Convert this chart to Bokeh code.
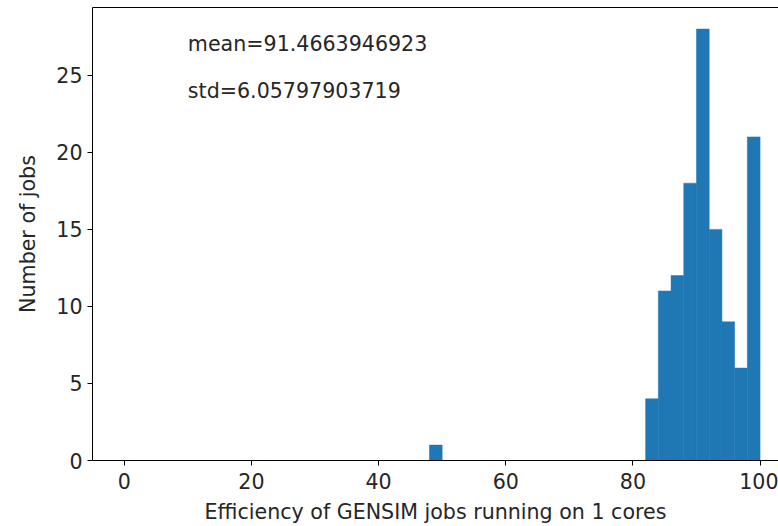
from bokeh.plotting import figure
from bokeh.models import Range1d, LinearAxis, FixedTicker
from bokeh.core.properties import value
from bokeh.embed import file_html
from bokeh.resources import INLINE

# Histogram data (bin width 2, bins from 0 to 100); only non-empty bins listed
bin_left = [48, 82, 84, 86, 88, 90, 92, 94, 96, 98]
counts = [1, 4, 11, 12, 18, 28, 15, 9, 6, 21]
bin_width = 2
x_ticks = [0, 20, 40, 60, 80, 100]
y_ticks = [0, 5, 10, 15, 20, 25]
stats_labels = ["mean=91.4663946923", "std=6.05797903719"]
stats_x = [10, 10]
stats_y = [27, 24]

FONT = "DejaVu Sans"
TXT = "#262626"
FS = "20.6px"

p = figure(width=778, height=526, output_backend="svg", toolbar_location=None,
           x_range=Range1d(-5, 102.9), y_range=Range1d(0, 29.4),
           x_axis_label="Efficiency of GENSIM jobs running on 1 cores",
           y_axis_label="Number of jobs")
p.min_border_left = 92
p.min_border_right = 0
p.min_border_top = 7
p.min_border_bottom = 65
p.outline_line_color = None
p.xgrid.visible = False
p.ygrid.visible = False
p.background_fill_color = "white"
p.border_fill_color = "white"

right = [l + bin_width for l in bin_left]
p.quad(left=bin_left, right=right, bottom=0, top=counts,
       fill_color="#1f77b4", line_color="#1f77b4", line_width=0.5)

p.text(x=stats_x, y=stats_y, text=stats_labels, text_font=value(FONT),
       text_font_size=FS, text_baseline="middle", text_align="left",
       text_color=TXT)

for ax, ticks in ((p.xaxis[0], x_ticks), (p.yaxis[0], y_ticks)):
    ax.ticker = FixedTicker(ticks=ticks)
    ax.minor_tick_line_color = None
    ax.major_tick_out = 5
    ax.major_tick_in = 0
    ax.axis_line_color = "black"
    ax.major_tick_line_color = "black"
    ax.major_label_text_font = FONT
    ax.major_label_text_font_size = FS
    ax.major_label_text_color = TXT
    ax.axis_label_text_font = FONT
    ax.axis_label_text_font_size = FS
    ax.axis_label_text_font_style = "normal"
    ax.axis_label_text_color = TXT

p.xaxis[0].major_label_standoff = 7
p.yaxis[0].major_label_standoff = 5
p.xaxis[0].axis_label_standoff = 8
p.yaxis[0].axis_label_standoff = 13

top = LinearAxis(ticker=FixedTicker(ticks=[]), major_label_text_font_size="0px",
                 axis_line_color="black", major_tick_line_color=None,
                 minor_tick_line_color=None)
p.add_layout(top, "above")

open("out.html", "w").write(file_html(p, INLINE))
